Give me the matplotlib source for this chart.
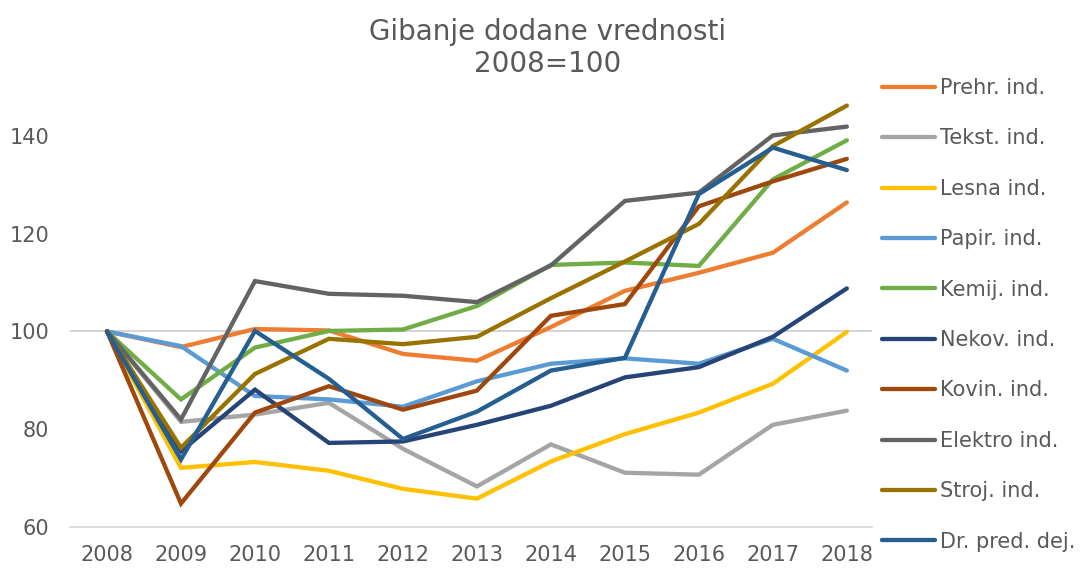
import numpy as np
import matplotlib.pyplot as plt

# Podatki (2008=100)
years = ['2008', '2009', '2010', '2011', '2012', '2013', '2014', '2015', '2016', '2017', '2018']

prehr = [100, 96.8, 100.5, 100.2, 95.4, 94.0, 100.9, 108.3, 112.0, 116.1, 126.4]
tekst = [100, 81.5, 83.0, 85.4, 76.0, 68.3, 76.9, 71.1, 70.7, 80.9, 83.8]
lesna = [100, 72.1, 73.3, 71.5, 67.8, 65.8, 73.4, 79.0, 83.4, 89.3, 99.9]
papir = [100, 97.0, 86.8, 86.1, 84.6, 89.8, 93.4, 94.5, 93.4, 98.5, 92.0]
kemij = [100, 86.1, 96.7, 100.1, 100.4, 105.2, 113.6, 114.1, 113.4, 131.1, 139.1]
nekov = [100, 75.5, 88.1, 77.2, 77.5, 80.9, 84.8, 90.6, 92.7, 98.9, 108.8]
kovin = [100, 64.8, 83.4, 88.8, 84.0, 87.9, 103.2, 105.6, 125.6, 130.7, 135.3]
elektro = [100, 82.0, 110.3, 107.7, 107.3, 106.0, 113.5, 126.7, 128.4, 140.1, 141.9]
stroj = [100, 76.2, 91.3, 98.5, 97.4, 98.9, 106.8, 114.3, 122.0, 137.9, 146.2]
drpred = [100, 73.8, 100.1, 90.3, 78.0, 83.6, 92.0, 94.6, 128.1, 137.6, 133.0]

labels = ['Prehr. ind.', 'Tekst. ind.', 'Lesna ind.', 'Papir. ind.', 'Kemij. ind.',
          'Nekov. ind.', 'Kovin. ind.', 'Elektro ind.', 'Stroj. ind.', 'Dr. pred. dej.']
series = [prehr, tekst, lesna, papir, kemij, nekov, kovin, elektro, stroj, drpred]
colors = ['#ED7D31', '#A5A5A5', '#FFC000', '#5B9BD5', '#70AD47',
          '#264478', '#9E480E', '#636363', '#997300', '#255E91']

txt_color = '#595959'
plt.rcParams['font.family'] = ['DejaVu Sans']

fig = plt.figure(figsize=(10.89, 5.68), dpi=100)
ax = fig.add_axes([70 / 1089, 1 - 527 / 568, 802 / 1089, 440 / 568])

x = np.arange(len(years))
ax.axhline(100, color='#D0D0D0', linewidth=1.3, zorder=1)
for vals, lab, col in zip(series, labels, colors):
    ax.plot(x, vals, color=col, linewidth=3.1, label=lab,
            solid_capstyle='round', solid_joinstyle='miter', zorder=2)

ax.set_xlim(-0.5, 10.34)
ax.set_ylim(60, 150)
ax.set_yticks([60, 80, 100, 120, 140])
ax.set_xticks(x)
ax.set_xticklabels(years)
ax.tick_params(axis='both', length=0, labelsize=15, colors=txt_color)
ax.tick_params(axis='x', pad=13)
ax.tick_params(axis='y', pad=15)

for s in ['top', 'right', 'left']:
    ax.spines[s].set_visible(False)
ax.spines['bottom'].set_color('#D9D9D9')
ax.spines['bottom'].set_linewidth(1.3)

fig.text(548 / 1089, 1 - 32 / 568, 'Gibanje dodane vrednosti', ha='center', va='center',
         fontsize=20, color=txt_color)
fig.text(548 / 1089, 1 - 64 / 568, '2008=100', ha='center', va='center',
         fontsize=20, color=txt_color)

fig.legend(loc='upper left', bbox_to_anchor=(882 / 1089, 1 - 78 / 568),
           frameon=False, fontsize=15, labelcolor=txt_color,
           handlelength=2.55, handletextpad=0.25, labelspacing=1.46,
           borderaxespad=0, borderpad=0)

fig.savefig('out.png', dpi=100)
